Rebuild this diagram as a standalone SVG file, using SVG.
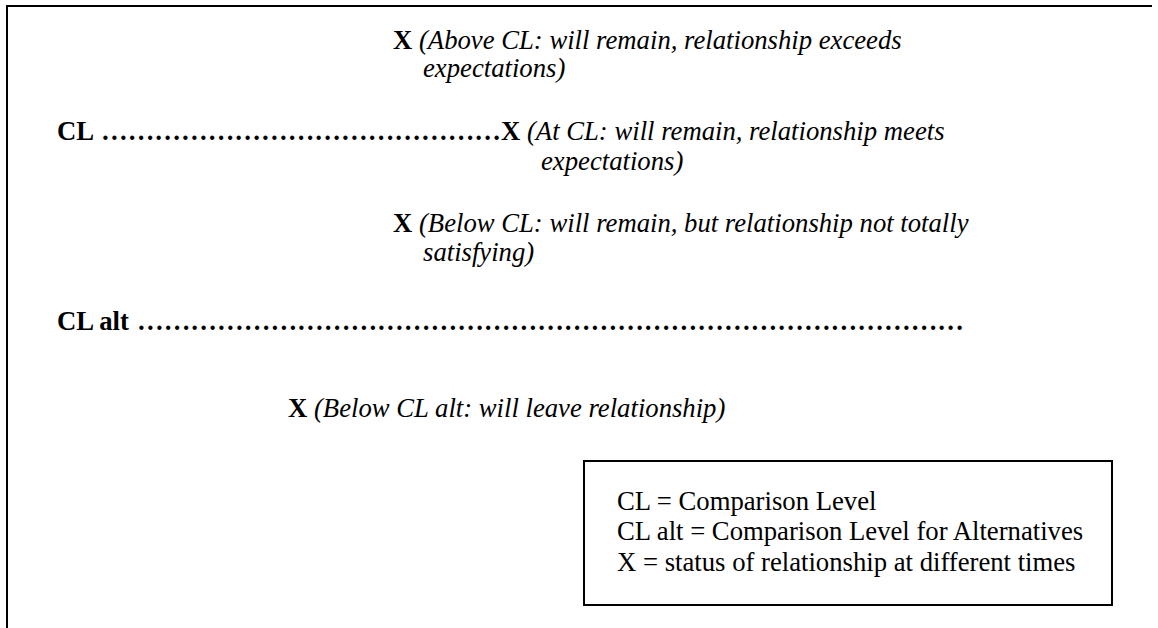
<svg xmlns="http://www.w3.org/2000/svg" width="1158" height="628" viewBox="0 0 1158 628">
<style>
text{font-family:"Liberation Serif","Times New Roman",serif;font-size:26.7px;fill:#000}
.b{font-weight:bold}
.i{font-style:italic;font-weight:normal}
.frame{fill:none;stroke:#000;stroke-width:2}
</style>
<rect width="1158" height="628" fill="#fff"/>
<path class="frame" d="M7,628 V6 H1152"/>
<g id="above-cl">
<text x="393" y="49"><tspan class="b">X</tspan><tspan class="i"> (Above CL: will remain, relationship exceeds</tspan></text>
<text class="i" x="423" y="77">expectations)</text>
</g>
<g id="cl-line">
<text class="b" x="57" y="140">CL</text>
<text class="b" x="101" y="140" textLength="400" lengthAdjust="spacing">&#8230;&#8230;&#8230;&#8230;&#8230;&#8230;&#8230;&#8230;&#8230;&#8230;&#8230;&#8230;&#8230;&#8230;&#8230;</text>
<text x="501" y="140"><tspan class="b">X</tspan><tspan class="i"> (At CL: will remain, relationship meets</tspan></text>
<text class="i" x="541" y="170">expectations)</text>
</g>
<g id="below-cl">
<text x="393" y="232"><tspan class="b">X</tspan><tspan class="i"> (Below CL: will remain, but relationship not totally</tspan></text>
<text class="i" x="423" y="261">satisfying)</text>
</g>
<g id="cl-alt-line">
<text class="b" x="57" y="330">CL alt</text>
<text class="b" x="137" y="330" textLength="827" lengthAdjust="spacing">&#8230;&#8230;&#8230;&#8230;&#8230;&#8230;&#8230;&#8230;&#8230;&#8230;&#8230;&#8230;&#8230;&#8230;&#8230;&#8230;&#8230;&#8230;&#8230;&#8230;&#8230;&#8230;&#8230;&#8230;&#8230;&#8230;&#8230;&#8230;&#8230;&#8230;&#8230;</text>
</g>
<g id="below-cl-alt">
<text x="288" y="417"><tspan class="b">X</tspan><tspan class="i"> (Below CL alt: will leave relationship)</tspan></text>
</g>
<g id="legend">
<rect class="frame" x="584" y="461" width="528" height="144"/>
<text x="617" y="510">CL = Comparison Level</text>
<text x="617" y="540">CL alt = Comparison Level for Alternatives</text>
<text x="617" y="571">X = status of relationship at different times</text>
</g>
</svg>
